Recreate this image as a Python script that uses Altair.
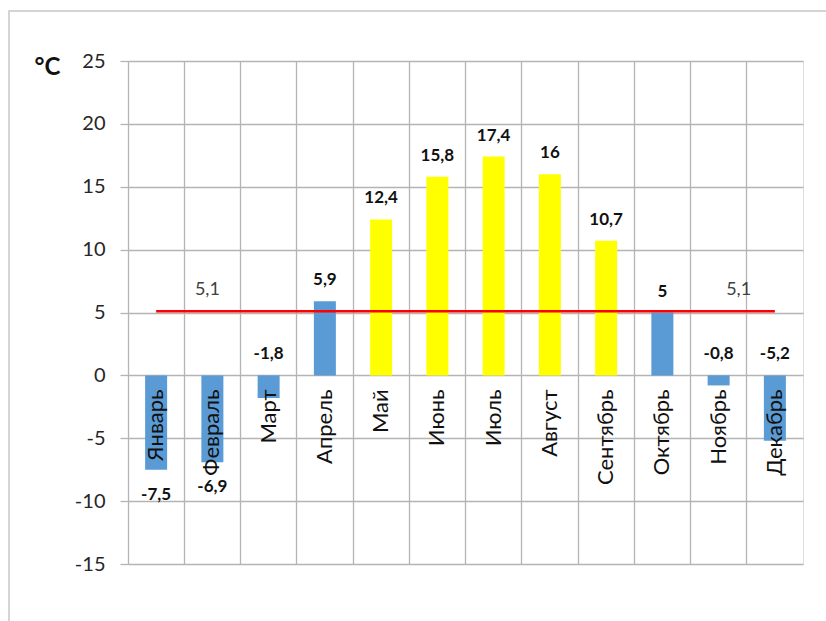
import altair as alt
import pandas as pd

# Monthly mean air temperature, °C
MONTHS = ["Январь", "Февраль", "Март", "Апрель", "Май", "Июнь",
          "Июль", "Август", "Сентябрь", "Октябрь", "Ноябрь", "Декабрь"]
TEMPS = [-7.5, -6.9, -1.8, 5.9, 12.4, 15.8, 17.4, 16.0, 10.7, 5.0, -0.8, -5.2]
# months whose mean exceeds 10 °C are highlighted
WARM_MONTHS = ["Май", "Июнь", "Июль", "Август", "Сентябрь"]
# where each value label sits: under the bar end or above the bar / zero line
LABEL_SIDE = ["below", "below", "above", "above", "above", "above",
              "above", "above", "above", "above", "above", "above"]
ANNUAL_MEAN = 5.1
Y_TICKS = [-15, -10, -5, 0, 5, 10, 15, 20, 25]

FONT = "Lato"
GRID = "#B4B4B4"
BLUE = "#5B9BD5"
YELLOW = "#FFFF00"


def fmt(v):
    s = f"{v:g}"
    return s.replace(".", ",")


df = pd.DataFrame({
    "month": MONTHS,
    "temp": TEMPS,
    "tone": ["warm" if m in WARM_MONTHS else "cold" for m in MONTHS],
    "label": [fmt(v) for v in TEMPS],
    "side": LABEL_SIDE,
})
df["anchor"] = [v if s == "below" else max(v, 0) for v, s in zip(df["temp"], df["side"])]
df["zero"] = 0

mean_df = pd.DataFrame({"month": [MONTHS[0], MONTHS[-1]], "temp": [ANNUAL_MEAN] * 2})

x_enc = alt.X("month:N", sort=MONTHS,
              scale=alt.Scale(paddingInner=0, paddingOuter=0),
              axis=alt.Axis(bandPosition=0, grid=True, gridColor=GRID, gridWidth=1.3,
                            labels=False, ticks=False, domain=False, title=None))
y_scale = alt.Scale(domain=[-15, 25], nice=False, zero=False)

bars = alt.Chart(df).mark_bar(size=22).encode(
    x=x_enc,
    y=alt.Y("temp:Q", scale=y_scale,
            axis=alt.Axis(values=Y_TICKS, grid=True, gridColor=GRID, gridWidth=1.3,
                          tickColor=GRID, tickWidth=1.3, tickSize=8, domain=False,
                          labelExpr="toString(datum.value)",
                          labelFontSize=20, labelFont=FONT, labelColor="#262626",
                          labelPadding=15,
                          title="°C", titleAngle=0, titleAlign="left", titleBaseline="top",
                          titleX=-94, titleY=-6, titleFontSize=24, titleFont=FONT,
                          titleFontWeight="bold", titleColor="#111111")),
    y2=alt.Y2("zero:Q"),
    color=alt.Color("tone:N", scale=alt.Scale(domain=["cold", "warm"], range=[BLUE, YELLOW]),
                    legend=None),
)

mean_line = alt.Chart(mean_df).mark_line(color="#FF0000", strokeWidth=2.5).encode(
    x=alt.X("month:N", sort=MONTHS),
    y=alt.Y("temp:Q", scale=y_scale),
)

mean_lbl_1 = alt.Chart(mean_df.iloc[[0]].assign(month=["Февраль"])).mark_text(
    font=FONT, fontSize=18, color="#404040", dx=-5, dy=-21, baseline="middle"
).encode(x=alt.X("month:N", sort=MONTHS), y=alt.Y("temp:Q", scale=y_scale),
         text=alt.value(fmt(ANNUAL_MEAN)))

mean_lbl_2 = alt.Chart(mean_df.iloc[[0]].assign(month=["Ноябрь"])).mark_text(
    font=FONT, fontSize=18, color="#404040", dx=20, dy=-21, baseline="middle"
).encode(x=alt.X("month:N", sort=MONTHS), y=alt.Y("temp:Q", scale=y_scale),
         text=alt.value(fmt(ANNUAL_MEAN)))

above = alt.Chart(df).transform_filter(alt.datum.side == "above").mark_text(
    font=FONT, fontSize=17, fontWeight="bold", color="#111111", dy=-21, baseline="middle"
).encode(x=alt.X("month:N", sort=MONTHS), y=alt.Y("anchor:Q", scale=y_scale), text="label:N")

below = alt.Chart(df).transform_filter(alt.datum.side == "below").mark_text(
    font=FONT, fontSize=17, fontWeight="bold", color="#111111", dy=25, baseline="middle"
).encode(x=alt.X("month:N", sort=MONTHS), y=alt.Y("anchor:Q", scale=y_scale), text="label:N")

month_labels = alt.Chart(df).mark_text(
    font=FONT, fontSize=22, color="#111111", angle=270, align="right",
    baseline="middle", dx=-14
).encode(x=alt.X("month:N", sort=MONTHS), y=alt.Y("zero:Q", scale=y_scale), text="month:N")

# light frame around the whole figure
frame = alt.Chart(df.iloc[[0]]).mark_rect(fill=None, stroke="#C8C8C8", strokeWidth=1.5).encode(
    x=alt.value(-119), x2=alt.value(760), y=alt.value(-50), y2=alt.value(640)
)

chart = alt.layer(
    frame, bars, mean_line, mean_lbl_1, mean_lbl_2, above, below, month_labels
).properties(
    width=675, height=503,
    autosize=alt.AutoSizeParams(type="none"),
    padding={"left": 128, "top": 61, "right": 23, "bottom": 57},
).configure_view(stroke=GRID, strokeWidth=1.3).configure(background="white")

chart.save("out.html", embed_options={"renderer": "svg", "actions": False})
